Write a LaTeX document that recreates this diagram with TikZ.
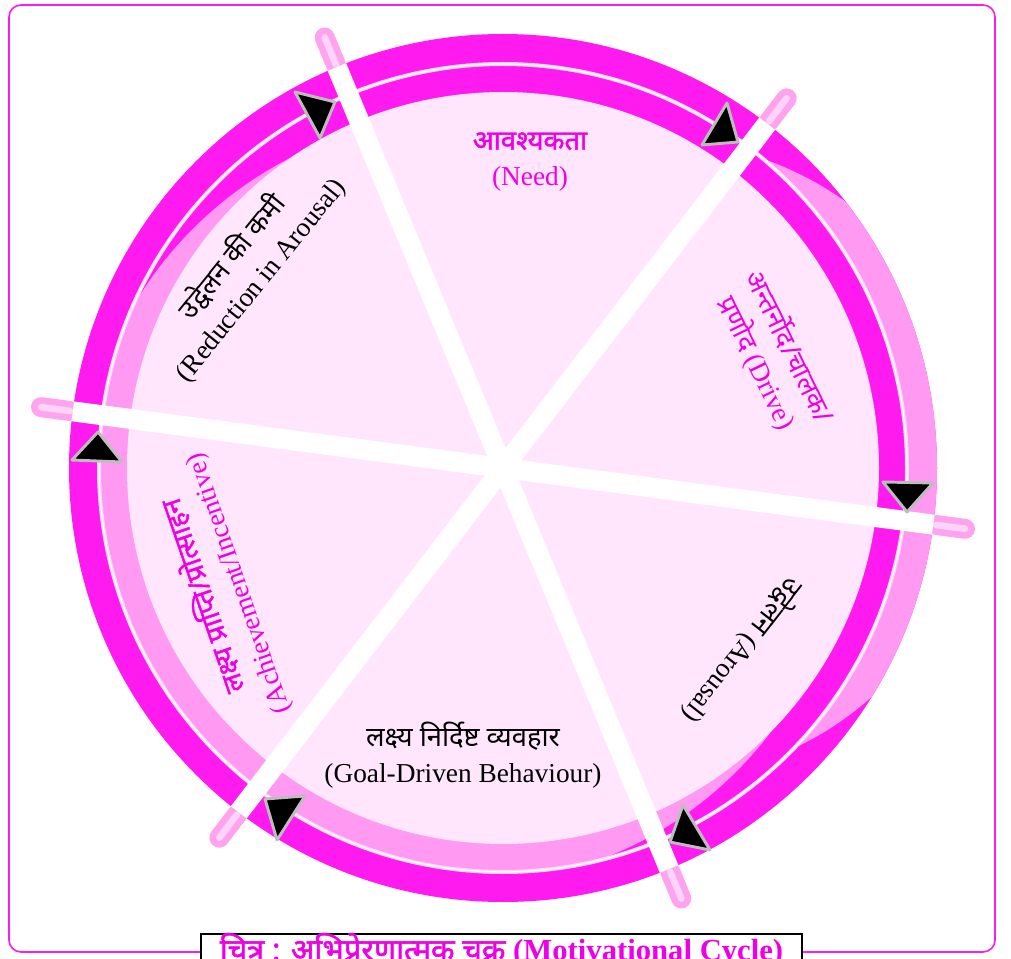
\documentclass[tikz,border=0pt]{standalone}
\usepackage{fontspec}
\setmainfont{Liberation Serif}
\newfontfamily\hindi[Script=Devanagari]{Noto Sans}
\newfontfamily\hindib[Script=Devanagari, FakeBold=1.6]{Noto Sans}
\usetikzlibrary{positioning}
\definecolor{ringmagenta}{HTML}{FF1AF0}
\definecolor{ringlight}{HTML}{FF99F2}
\definecolor{diskpink}{HTML}{FFE6FC}
\definecolor{stubpink}{HTML}{FFA3EE}
\definecolor{stubshine}{HTML}{FFD4F8}
\definecolor{textmagenta}{HTML}{EE00E6}
\definecolor{trackgrey}{HTML}{BDBDBD}

\begin{document}
\begin{tikzpicture}[x=0.75pt, y=0.75pt,
        every node/.style={inner sep=0pt, align=center, font=\fontsize{20.5}{27}\selectfont},
        spoke/.style={white, line width=15pt},
        stub/.style={stubpink, line width=15pt, line cap=round},
        shine/.style={stubshine, line width=5pt, line cap=round},
        cyclearrow/.style={fill=black, draw=trackgrey, line width=2.2pt, line join=round}]
    \path[use as bounding box] (0,0) rectangle (1011,-959);
    \clip (0,0) rectangle (1011,-959);

    \coordinate (c) at (503,-468);

    % ring
    \fill[ringmagenta] (c) circle (434);
    \begin{scope}
        \clip (c) circle (434);
        \fill[ringlight] ([shift={(3:157)}]c) circle (318);
    \end{scope}
    \fill[ringmagenta] (c) circle (404);
    \begin{scope}
        \clip (c) circle (404);
        \fill[ringlight] ([shift={(220:50)}]c) circle (384);
    \end{scope}
    \draw[stubshine, line width=3pt] (c) circle (404);
    \draw[white, line width=1pt] (c) circle (404);
    \fill[diskpink] (c) circle (376);

    % spokes
    \foreach \a in {-7.5,52.5,112.5}{
        \draw[stub] ([shift={(\a:437)}]c) -- ([shift={(\a:466)}]c);
        \draw[stub] ([shift={(\a+180:437)}]c) -- ([shift={(\a+180:466)}]c);
        \draw[shine] ([shift={(\a:437)}]c) -- ([shift={(\a:466)}]c);
        \draw[shine] ([shift={(\a+180:437)}]c) -- ([shift={(\a+180:466)}]c);
        \draw[spoke] ([shift={(\a:434)}]c) -- ([shift={(\a+180:434)}]c);
    }

    % arrows on the track
    \draw[cyclearrow] (295,-92) -- (335,-102) -- (320,-138) -- cycle;
    \draw[cyclearrow] (727,-103) -- (738,-142) -- (702,-145) -- cycle;
    \draw[cyclearrow] (883,-482) -- (933,-483) -- (907,-512) -- cycle;
    \draw[cyclearrow] (683,-805) -- (710,-850) -- (670,-842) -- cycle;
    \draw[cyclearrow] (265,-799) -- (305,-796) -- (277,-840) -- cycle;
    \draw[cyclearrow] (98,-432) -- (122,-462) -- (72,-460) -- cycle;

    % stages
    \node (need) [text=textmagenta] at (530,-162) {{\hindib आवश्यकता}\\(Need)};
    \node (drive) [text=textmagenta, rotate=-64] at (773,-355) {{\hindi अन्तर्नोद/चालक/}\\{\hindi प्रणोद} (Drive)};
    \node (arousal) [rotate=-128] at (743,-651) {{\hindi उद्वेलन} (Arousal)};
    \node (goal) at (463,-755) {{\hindi लक्ष्य निर्दिष्ट व्यवहार}\\(Goal-Driven Behaviour)};
    \node (achieve) [text=textmagenta, rotate=109] at (220,-590) {{\hindib लक्ष्य प्राप्ति/प्रोत्साहन}\\(Achievement/Incentive)};
    \node (reduce) [rotate=51] at (246,-268) {{\hindi उद्वेलन की कमी}\\(Reduction in Arousal)};

    % frame and caption
    \draw[ringmagenta, line width=1.2pt, rounded corners=9] (9,-5) rectangle (995,-952);
    \node (caption) [draw=black, line width=1.2pt, fill=white, anchor=north, minimum width=451pt,
        inner xsep=4pt, inner ysep=0pt, text height=20pt, text depth=8pt, text=textmagenta,
        font=\fontsize{23}{27}\selectfont\bfseries]
        at (501.5,-933) {{\hindib चित्र : अभिप्रेरणात्मक चक्र} (Motivational Cycle)};
\end{tikzpicture}
\end{document}
